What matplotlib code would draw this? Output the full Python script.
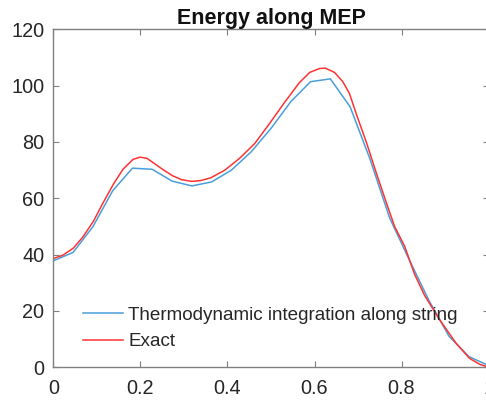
import matplotlib
matplotlib.use("Agg")
import matplotlib.pyplot as plt

plt.rcParams['font.family'] = ['Liberation Sans', 'DejaVu Sans']

# Thermodynamic integration along string (23 images)
ti_x = [0.0, 0.0455, 0.0909, 0.1364, 0.1818, 0.2273, 0.2727, 0.3182, 0.3636,
        0.4091, 0.4545, 0.5, 0.5455, 0.5909, 0.6364, 0.6818, 0.7273, 0.7727,
        0.8182, 0.8636, 0.9091, 0.9545, 1.0]
ti_y = [37.8, 40.8, 49.9, 62.7, 70.7, 70.3, 66.1, 64.4, 65.8,
        70.0, 76.5, 84.8, 94.3, 101.4, 102.4, 92.5, 74.0, 53.0,
        38.0, 23.5, 11.0, 3.8, 0.6]

# Exact energy
ex_x = [0.000, 0.022, 0.046, 0.068, 0.092, 0.114, 0.138, 0.160, 0.183, 0.199,
        0.215, 0.228, 0.249, 0.274, 0.295, 0.318, 0.339, 0.362, 0.394, 0.428,
        0.463, 0.497, 0.531, 0.565, 0.589, 0.612, 0.625, 0.646, 0.665, 0.680,
        0.697, 0.720, 0.743, 0.766, 0.784, 0.807, 0.830, 0.853, 0.887, 0.925,
        0.956, 0.979, 1.000]
ex_y = [38.6, 39.8, 42.3, 46.3, 51.8, 58.3, 65.0, 70.3, 73.8, 74.6,
        74.2, 72.8, 70.5, 68.0, 66.6, 66.0, 66.3, 67.3, 70.0, 74.2,
        79.5, 86.6, 94.0, 101.0, 104.7, 106.1, 106.2, 104.7, 101.4, 97.3,
        89.5, 79.5, 68.5, 58.0, 50.0, 43.0, 33.0, 25.5, 17.0, 8.6,
        3.2, 1.1, 0.0]

labels = ['Thermodynamic integration along string', 'Exact']
x_ticks = [0, 0.2, 0.4, 0.6, 0.8, 1]
x_ticklabels = ['0', '0.2', '0.4', '0.6', '0.8', '1']
y_ticks = [0, 20, 40, 60, 80, 100, 120]

fig = plt.figure(figsize=(4.86, 4.03), dpi=100)
ax = fig.add_axes([0.1097, 0.0886, 0.8957, 0.8387])

ax.plot(ti_x, ti_y, color='#4a9edb', lw=1.1, label=labels[0])
ax.plot(ex_x, ex_y, color='#ff3333', lw=1.1, label=labels[1])

ax.set_xlim(0, 1)
ax.set_ylim(0, 120)
ax.set_xticks(x_ticks)
ax.set_xticklabels(x_ticklabels)
ax.set_yticks(y_ticks)

spine_col = '#808080'
for s in ax.spines.values():
    s.set_color(spine_col)
    s.set_linewidth(1.0)
ax.tick_params(direction='in', length=4, width=0.8, color=spine_col,
               labelcolor='#262626', labelsize=14.3, top=True, right=True)
ax.tick_params(axis='x', pad=8.5)
ax.tick_params(axis='y', pad=6.5)

ax.set_title('Energy along MEP', fontsize=15.5, fontweight='bold', color='#111111', pad=4)

leg = ax.legend(loc='lower left', bbox_to_anchor=(0.068, 0.05), frameon=False,
                fontsize=13.6, handlelength=2.1, handletextpad=0.3,
                labelspacing=0.48, borderpad=0, borderaxespad=0)
for t in leg.get_texts():
    t.set_color('#262626')

fig.savefig('out.png', dpi=100)
